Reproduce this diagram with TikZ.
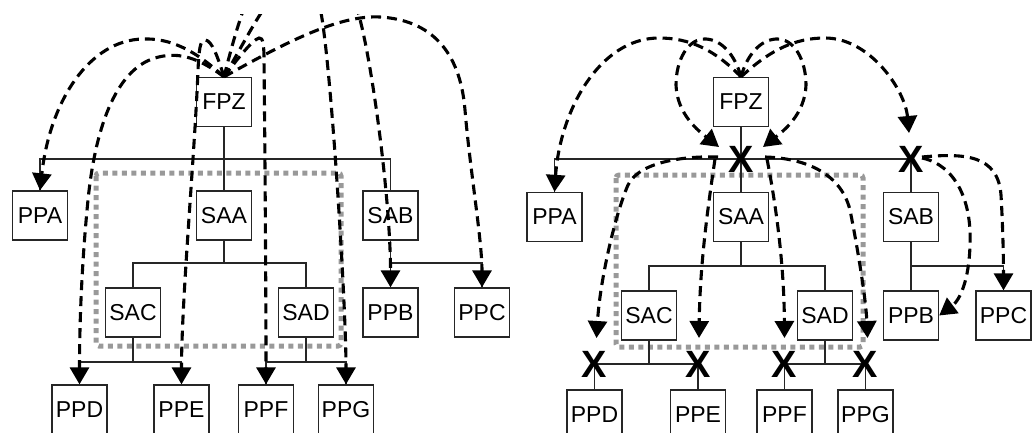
\documentclass[tikz,border=0pt]{standalone}
\usepackage{fontspec}
\setmainfont{Liberation Sans}
\usetikzlibrary{arrows.meta,calc}

\tikzset{
  box/.style={draw=black!85, line width=1.3pt, minimum width=55pt, minimum height=49pt,
    inner sep=0pt, font=\fontsize{23}{23}\selectfont},
  link/.style={draw=black!85, line width=1.4pt},
  flow/.style={draw=black, line width=3.1pt, dash pattern=on 10pt off 6pt,
    -{Triangle[width=19pt,length=17pt]}},
  scopebox/.style={draw=black!40, line width=5pt, dash pattern=on 5pt off 4.5pt, rounded corners=3pt},
  breakx/.style={font=\fontsize{38}{38}\selectfont\bfseries, inner sep=0pt},
}

\begin{document}
\begin{tikzpicture}[x=1pt,y=-1pt]
\useasboundingbox (0,0) rectangle (1032,433);
\clip (0,0) rectangle (1032,433);

% ---------------- left tree ----------------
\draw[scopebox] (96,173) rectangle (341,346);

\node[box] (lFPZ) at (224,102) {FPZ};
\node[box] (lPPA) at (40,215.5) {PPA};
\node[box] (lSAA) at (224,215.5) {SAA};
\node[box] (lSAB) at (390.5,215.5) {SAB};
\node[box] (lSAC) at (133,312.5) {SAC};
\node[box] (lSAD) at (306,312.5) {SAD};
\node[box] (lPPB) at (390.5,312.5) {PPB};
\node[box] (lPPC) at (482,312.5) {PPC};
\node[box] (lPPD) at (79.5,409.5) {PPD};
\node[box] (lPPE) at (181.5,409.5) {PPE};
\node[box] (lPPF) at (266,409.5) {PPF};
\node[box] (lPPG) at (346,409.5) {PPG};

\coordinate (lj1) at (224,159);
\coordinate (lj2) at (224,263);
\coordinate (lj3) at (390.5,263);
\coordinate (lj4) at (133,362);
\coordinate (lj5) at (306,362);

\draw[link] (lFPZ) -- (lSAA);
\draw[link] (lj1) -| (lPPA.north);
\draw[link] (lj1) -| (lSAB.north);
\draw[link] (lSAA) -- (lj2) -| (lSAC.north);
\draw[link] (lj2) -| (lSAD.north);
\draw[link] (lSAB) -- (lPPB);
\draw[link] (lj3) -| (lPPC.north);
\draw[link] (lSAC) -- (lj4) -| (lPPD.north);
\draw[link] (lj4) -| (lPPE.north);
\draw[link] (lSAD) -- (lj5) -| (lPPF.north);
\draw[link] (lj5) -| (lPPG.north);

\begin{scope}
\clip (0,15) rectangle (516,433);
\draw[flow] (lFPZ.north) .. controls (195,50) and (170,38) .. (143,39)
  .. controls (90,40) and (50,100) .. (lPPA.north);
\draw[flow] (lFPZ.north) .. controls (195,55) and (175,52) .. (155,58)
  .. controls (115,70) and (95,130) .. (88,200)
  .. controls (82,260) and (79.5,320) .. (lPPD.north);
\draw[flow] (lFPZ.north) .. controls (218,58) and (212,40) .. (205,40)
  .. controls (200,40) and (199,50) .. (198,70)
  .. controls (195,150) and (181.5,300) .. (lPPE.north);
\draw[flow] (lFPZ.north) .. controls (235,62) and (252,40) .. (259,38)
  .. controls (263,37) and (264,45) .. (264,60)
  .. controls (265,150) and (266,300) .. (lPPF.north);
\draw[flow] (lFPZ.north) .. controls (232,45) and (238,25) .. (244,8)
  .. controls (255,-25) and (310,-30) .. (320,8)
  .. controls (330,50) and (346,300) .. (lPPG.north);
\draw[flow] (lFPZ.north) .. controls (240,50) and (255,20) .. (270,0)
  .. controls (290,-30) and (345,-30) .. (358,12)
  .. controls (372,60) and (390.5,200) .. (lPPB.north);
\draw[flow] (lFPZ.north) .. controls (290,40) and (340,15) .. (380,17)
  .. controls (430,20) and (460,50) .. (465,110)
  .. controls (470,170) and (482,240) .. (lPPC.north);
\end{scope}

% ---------------- right tree ----------------
\draw[scopebox] (616,175) rectangle (863,347);

\node[box] (rFPZ) at (741,102) {FPZ};
\node[box] (rPPA) at (554.5,217) {PPA};
\node[box] (rSAA) at (741,217) {SAA};
\node[box] (rSAB) at (911,217) {SAB};
\node[box] (rSAC) at (649,315.5) {SAC};
\node[box] (rSAD) at (825,315.5) {SAD};
\node[box] (rPPB) at (911,315.5) {PPB};
\node[box] (rPPC) at (1003.5,315.5) {PPC};
\node[box] (rPPD) at (594.5,414.5) {PPD};
\node[box] (rPPE) at (698,414.5) {PPE};
\node[box] (rPPF) at (784.5,414.5) {PPF};
\node[box] (rPPG) at (865.5,414.5) {PPG};

\coordinate (rj1) at (741,159);
\coordinate (rj2) at (911,159);
\coordinate (rj3) at (741,266);
\coordinate (rj4) at (911,266);
\coordinate (rj5) at (649,364);
\coordinate (rj6) at (825,364);

\draw[link] (rFPZ) -- (rSAA);
\draw[link] (rj1) -| (rPPA.north);
\draw[link] (rj1) -- (rj2) -- (rSAB.north);
\draw[link] (rSAA) -- (rj3) -| (rSAC.north);
\draw[link] (rj3) -| (rSAD.north);
\draw[link] (rSAB) -- (rPPB);
\draw[link] (rj4) -| (rPPC.north);
\draw[link] (rSAC) -- (rj5) -| (rPPD.north);
\draw[link] (rj5) -| (rPPE.north);
\draw[link] (rSAD) -- (rj6) -| (rPPF.north);
\draw[link] (rj6) -| (rPPG.north);

\node[breakx] (xa) at (rj1) {X};
\node[breakx] (xb) at (rj2) {X};
\node[breakx] (xd) at (594.5,364) {X};
\node[breakx] (xe) at (698,364) {X};
\node[breakx] (xf) at (784.5,364) {X};
\node[breakx] (xg) at (865.5,364) {X};

\draw[flow] (rFPZ.north) .. controls (715,50) and (690,38) .. (659,38)
  .. controls (600,38) and (560,110) .. (rPPA.north);
\draw[flow] (rFPZ.north) .. controls (735,55) and (722,40) .. (706,39)
  .. controls (688,38) and (676,60) .. (676,85)
  .. controls (677,115) and (700,132) .. ($(xa)+(-22,-12)$);
\draw[flow] (rFPZ.north) .. controls (747,55) and (760,40) .. (776,39)
  .. controls (794,38) and (806,60) .. (806,85)
  .. controls (805,115) and (782,132) .. ($(xa)+(22,-12)$);
\draw[flow] (rFPZ.north) .. controls (770,50) and (795,38) .. (825,38)
  .. controls (870,38) and (905,90) .. ($(xb)+(-2,-26)$);

\draw[flow] ($(xa)+(-23,-2)$) .. controls (690,156) and (640,160) .. (628,185)
  .. controls (615,215) and (600,280) .. ($(xd)+(2,-26)$);
\draw[flow] ($(xa)+(-26,0)$) .. controls (709,200) and (700,260) .. ($(xe)+(1,-26)$);
\draw[flow] ($(xa)+(26,0)$) .. controls (775,200) and (784,260) .. ($(xf)+(0,-26)$);
\draw[flow] ($(xa)+(24,-2)$) .. controls (800,158) and (840,170) .. (850,210)
  .. controls (858,250) and (866,300) .. ($(xg)+(2,-26)$);

\draw[flow] ($(xb)+(11,-1)$) .. controls (955,165) and (972,200) .. (970,245)
  .. controls (969,280) and (960,300) .. (rPPB.east);
\draw[flow] ($(xb)+(11,-2)$) .. controls (965,153) and (998,155) .. (1001,195)
  .. controls (1003,230) and (1003.5,260) .. (rPPC.north);
\end{tikzpicture}
\end{document}
